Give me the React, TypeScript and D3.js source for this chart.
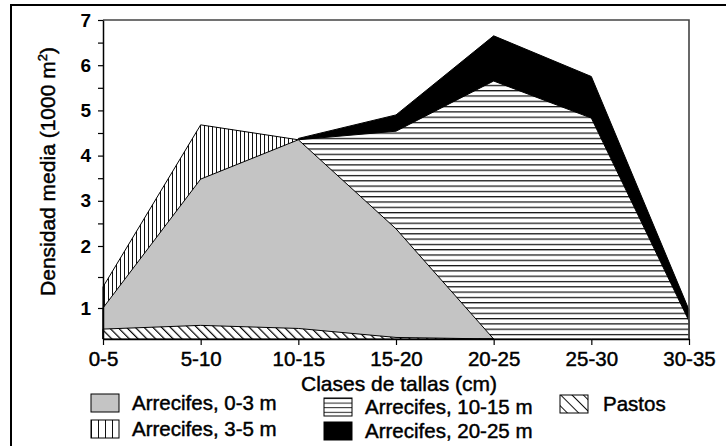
import React, { useRef, useEffect } from 'react';
import * as d3 from 'd3';

// size classes on the x axis
const sizeClasses = ['0-5', '5-10', '10-15', '15-20', '20-25', '25-30', '30-35'];

// mean density (1000 m2) per size class, null where the layer is not drawn
const reef0to3 = [1.0, 3.48, 4.35, 2.38, 0, null, null];
const reef3to5 = [1.34, 4.68, 4.35, null, null, null, null];
const reef10to15 = [null, null, 4.35, 4.54, 5.65, 4.83, 0.58];
const reef20to25 = [null, null, 4.38, 4.9, 6.65, 5.75, 0.94];
const pastos = [0.32, 0.44, 0.34, 0.05, 0, null, null];

// y axis of the original is stretched below 2
const yBreaks = [0, 1, 2, 7];
const yTickValues = [1, 1.5, 2, 2.5, 3, 3.5, 4, 4.5, 5, 5.5, 6, 6.5, 7];

const layers = [
  { key: 'r20', label: 'Arrecifes, 20-25 m', values: reef20to25, fill: '#000' },
  { key: 'r10', label: 'Arrecifes, 10-15 m', values: reef10to15, fill: 'url(#hatchH)' },
  { key: 'r3', label: 'Arrecifes, 3-5 m', values: reef3to5, fill: 'url(#hatchV)' },
  { key: 'r0', label: 'Arrecifes, 0-3 m', values: reef0to3, fill: '#c4c4c4' },
  { key: 'pa', label: 'Pastos', values: pastos, fill: 'url(#hatchD)' },
];

const FONT = '"Liberation Sans", Arial, sans-serif';

const App = () => {
  const ref = useRef<SVGSVGElement>(null);

  useEffect(() => {
    const svg = d3.select(ref.current);
    svg.selectAll('*').remove();

    const width = 726;
    const height = 446;
    const margin = { top: 20, right: 37, bottom: 107, left: 103 };
    const bottom = height - margin.bottom;

    const x = d3.scalePoint().domain(sizeClasses).range([margin.left, width - margin.right]);
    const y = d3.scaleLinear().domain(yBreaks).range([bottom, bottom - 31, bottom - 93, margin.top]);

    svg.attr('viewBox', `0 0 ${width} ${height}`);

    // patterns
    const defs = svg.append('defs');
    const mk = (id, w, h, draw, rot = 0) => {
      const p = defs.append('pattern').attr('id', id).attr('patternUnits', 'userSpaceOnUse')
        .attr('width', w).attr('height', h);
      if (rot) p.attr('patternTransform', `rotate(${rot})`);
      p.append('rect').attr('width', w).attr('height', h).attr('fill', '#fff');
      draw(p);
    };
    mk('hatchV', 4, 10, p => p.append('line').attr('x1', 0.5).attr('x2', 0.5).attr('y1', 0).attr('y2', 10).attr('stroke', '#111').attr('stroke-width', 1));
    mk('hatchH', 10, 5.3, p => p.append('line').attr('x1', 0).attr('x2', 10).attr('y1', 0.6).attr('y2', 0.6).attr('stroke', '#111').attr('stroke-width', 1.3));
    mk('hatchD', 6.2, 10, p => p.append('line').attr('x1', 0.6).attr('x2', 0.6).attr('y1', 0).attr('y2', 10).attr('stroke', '#000').attr('stroke-width', 1.2), -45);
    mk('legV', 7, 10, p => p.append('line').attr('x1', 0.5).attr('x2', 0.5).attr('y1', 0).attr('y2', 10).attr('stroke', '#111').attr('stroke-width', 1));
    mk('legH', 10, 4.6, p => p.append('line').attr('x1', 0).attr('x2', 10).attr('y1', 0.5).attr('y2', 0.5).attr('stroke', '#222').attr('stroke-width', 1));
    mk('legD', 8, 10, p => p.append('line').attr('x1', 0.5).attr('x2', 0.5).attr('y1', 0).attr('y2', 10).attr('stroke', '#111').attr('stroke-width', 1), -45);

    // outer frame (top and left only)
    svg.append('line').attr('x1', 10).attr('x2', width).attr('y1', 5).attr('y2', 5).attr('stroke', '#000').attr('stroke-width', 2);
    svg.append('line').attr('x1', 11).attr('x2', 11).attr('y1', 4).attr('y2', height).attr('stroke', '#000').attr('stroke-width', 2);

    // areas
    const area = d3.area()
      .defined(d => d != null)
      .x((d, i) => x(sizeClasses[i]))
      .y0(y(0))
      .y1(d => y(d));

    svg.append('g').selectAll('path').data(layers).join('path')
      .attr('d', d => area(d.values))
      .attr('fill', d => d.fill)
      .attr('stroke', '#000')
      .attr('stroke-width', 1)
      .attr('stroke-linejoin', 'round');

    // plot box top / right
    svg.append('path')
      .attr('d', `M${margin.left},${margin.top}H${width - margin.right}V${bottom}`)
      .attr('fill', 'none').attr('stroke', '#444').attr('stroke-width', 1.6);

    // axes
    const xAxis = svg.append('g').attr('transform', `translate(0,${bottom})`)
      .call(d3.axisBottom(x).tickSize(6).tickSizeOuter(0).tickPadding(6));
    const yAxis = svg.append('g').attr('transform', `translate(${margin.left},0)`)
      .call(d3.axisLeft(y).tickValues(yTickValues).tickSize(5).tickSizeOuter(0).tickPadding(7)
        .tickFormat(d => (Number.isInteger(d) ? String(d) : '')));

    [xAxis, yAxis].forEach(g => {
      g.select('.domain').attr('stroke', '#000').attr('stroke-width', 1.5);
      g.selectAll('.tick line').attr('stroke', '#000').attr('stroke-width', 1.2);
      g.selectAll('text').attr('fill', '#000').attr('font-family', FONT);
    });
    xAxis.selectAll('text').attr('font-size', 20.5).attr('stroke', '#000').attr('stroke-width', 0.45);
    yAxis.selectAll('text').attr('font-size', 19).attr('font-weight', 'bold');

    // axis titles
    svg.append('text')
      .attr('x', (margin.left + width - margin.right) / 2 + 3).attr('y', 391)
      .attr('text-anchor', 'middle').attr('font-family', FONT).attr('font-size', 21)
      .attr('stroke', '#000').attr('stroke-width', 0.45)
      .text('Clases de tallas (cm)');

    const yt = svg.append('text')
      .attr('transform', `translate(55,${(margin.top + bottom) / 2 - 8}) rotate(-90)`)
      .attr('text-anchor', 'middle').attr('font-family', FONT).attr('font-size', 21)
      .attr('stroke', '#000').attr('stroke-width', 0.45);
    yt.append('tspan').text('Densidad media (1000 m');
    yt.append('tspan').attr('font-size', 13).attr('dy', -8).text('2');
    yt.append('tspan').attr('dy', 8).text(')');

    // legend
    const legend = [
      { label: 'Arrecifes, 0-3 m', fill: '#c4c4c4', x: 91, y: 394 },
      { label: 'Arrecifes, 3-5 m', fill: 'url(#legV)', x: 91, y: 420 },
      { label: 'Arrecifes, 10-15 m', fill: 'url(#legH)', x: 324, y: 398 },
      { label: 'Arrecifes, 20-25 m', fill: '#000', x: 324, y: 422 },
      { label: 'Pastos', fill: 'url(#legD)', x: 560, y: 395 },
    ];
    const lg = svg.append('g').selectAll('g').data(legend).join('g')
      .attr('transform', d => `translate(${d.x},${d.y})`);
    lg.append('rect').attr('width', 28).attr('height', 18)
      .attr('fill', d => d.fill).attr('stroke', '#000').attr('stroke-width', 1);
    lg.append('text').attr('x', d => (d.label === 'Pastos' ? 43 : 41)).attr('y', 16)
      .attr('font-family', FONT).attr('font-size', 20.5).attr('fill', '#000')
      .attr('stroke', '#000').attr('stroke-width', 0.45)
      .text(d => d.label);
  }, []);

  return <svg ref={ref} width={726} height={446} style={{ position: 'absolute', left: 0, top: 0, background: '#fff' }} />;
};

export default App;
